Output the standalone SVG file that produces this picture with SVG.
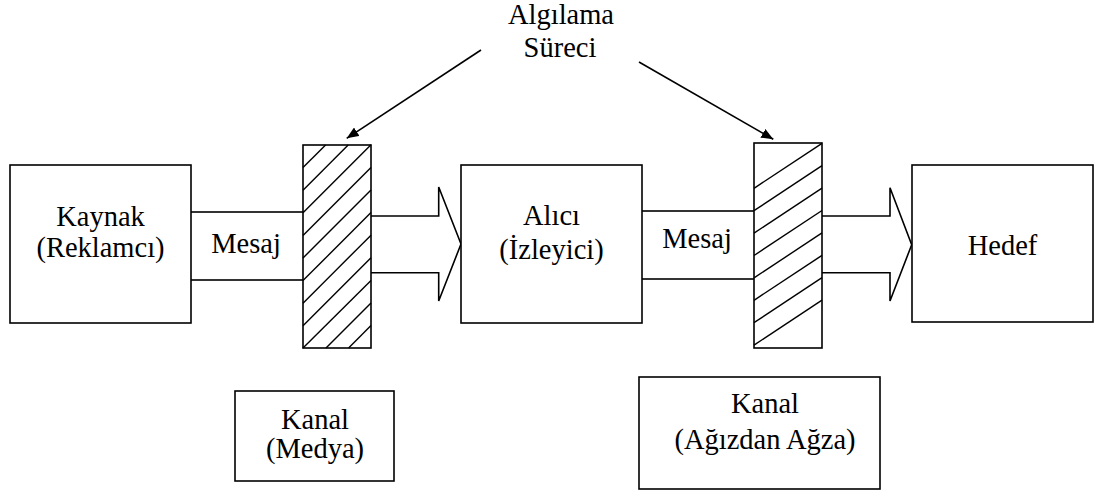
<svg xmlns="http://www.w3.org/2000/svg" width="1098" height="495" viewBox="0 0 1098 495">
<style>
.b{fill:#fff;stroke:#000;stroke-width:1.6}
.h{stroke:#000;stroke-width:1.4;fill:none}
.t{font-family:'Liberation Serif','DejaVu Serif',serif;font-size:28.5px;fill:#000;text-anchor:middle}
.c{stroke:#000;stroke-width:1.6;fill:none}
</style>
<defs>
<marker id="ah" viewBox="0 0 12 10" refX="12" refY="5" markerWidth="12" markerHeight="10" markerUnits="userSpaceOnUse" orient="auto">
<path d="M0,0 L12,5 L0,10 z" fill="#000"/>
</marker>
</defs>
<rect width="1098" height="495" fill="#fff"/>

<g id="connectors">
<rect class="b" x="180" y="212" width="130" height="68"/>
<rect class="b" x="630" y="211" width="130" height="68"/>
<polygon class="b" points="365,216 438.7,216 438.7,187 461,244 438.7,301 438.7,272.7 365,272.7"/>
<polygon class="b" points="816,216 890,216 890,187.7 911.7,244.7 890,301 890,272.7 816,272.7"/>
<line class="c" x1="481" y1="50" x2="346.7" y2="138.3" marker-end="url(#ah)"/>
<line class="c" x1="639" y1="62" x2="773.3" y2="139.3" marker-end="url(#ah)"/>
</g>

<g id="mesaj1"><text class="t" font-family="Liberation Serif, serif" x="246" y="252.5">Mesaj</text></g>
<g id="mesaj2"><text class="t" font-family="Liberation Serif, serif" x="697" y="247.5">Mesaj</text></g>

<g id="kaynak">
<rect class="b" x="10" y="165" width="181" height="158"/>
<text class="t" x="100.5" y="225.5">Kaynak</text>
<text class="t" x="100.5" y="257">(Reklamcı)</text>
</g>

<g id="bar1">
<rect class="b" x="303" y="145" width="68" height="203"/>
<g class="h">
<line x1="303" y1="167.6" x2="325.6" y2="145"/>
<line x1="303" y1="190.2" x2="348.2" y2="145"/>
<line x1="303" y1="212.8" x2="371" y2="144.8"/>
<line x1="303" y1="235.4" x2="371" y2="167.4"/>
<line x1="303" y1="258" x2="371" y2="190"/>
<line x1="303" y1="280.6" x2="371" y2="212.6"/>
<line x1="303" y1="303.2" x2="371" y2="235.2"/>
<line x1="303" y1="325.8" x2="371" y2="257.8"/>
<line x1="303" y1="348" x2="371" y2="280.4"/>
<line x1="326" y1="348" x2="371" y2="303"/>
<line x1="348.6" y1="348" x2="371" y2="325.6"/>
</g>
</g>

<g id="alici">
<rect class="b" x="461" y="165" width="181" height="158"/>
<text class="t" x="551.5" y="225">Alıcı</text>
<text class="t" x="551.5" y="259">(İzleyici)</text>
</g>

<g id="bar2">
<rect class="b" x="754" y="143" width="68" height="205"/>
<g class="h">
<line x1="754" y1="188.3" x2="822" y2="143.3"/>
<line x1="754" y1="210.7" x2="822" y2="165.7"/>
<line x1="754" y1="233.1" x2="822" y2="188.1"/>
<line x1="754" y1="255.5" x2="822" y2="210.5"/>
<line x1="754" y1="277.9" x2="822" y2="232.9"/>
<line x1="754" y1="300.3" x2="822" y2="255.3"/>
<line x1="754" y1="322.7" x2="822" y2="277.7"/>
<line x1="754" y1="345.1" x2="822" y2="300.1"/>
</g>
</g>

<g id="hedef">
<rect class="b" x="912" y="165" width="181" height="157"/>
<text class="t" x="1002.5" y="255">Hedef</text>
</g>

<g id="algilama">
<text class="t" x="561" y="24">Algılama</text>
<text class="t" x="560" y="57">Süreci</text>
</g>

<g id="kanal1">
<rect class="b" x="235" y="391" width="159" height="90"/>
<text class="t" x="315" y="428.5">Kanal</text>
<text class="t" x="315" y="457.5">(Medya)</text>
</g>

<g id="kanal2">
<rect class="b" x="639" y="377" width="241" height="112"/>
<text class="t" x="765" y="412.5">Kanal</text>
<text class="t" x="765" y="449">(Ağızdan Ağza)</text>
</g>
</svg>
